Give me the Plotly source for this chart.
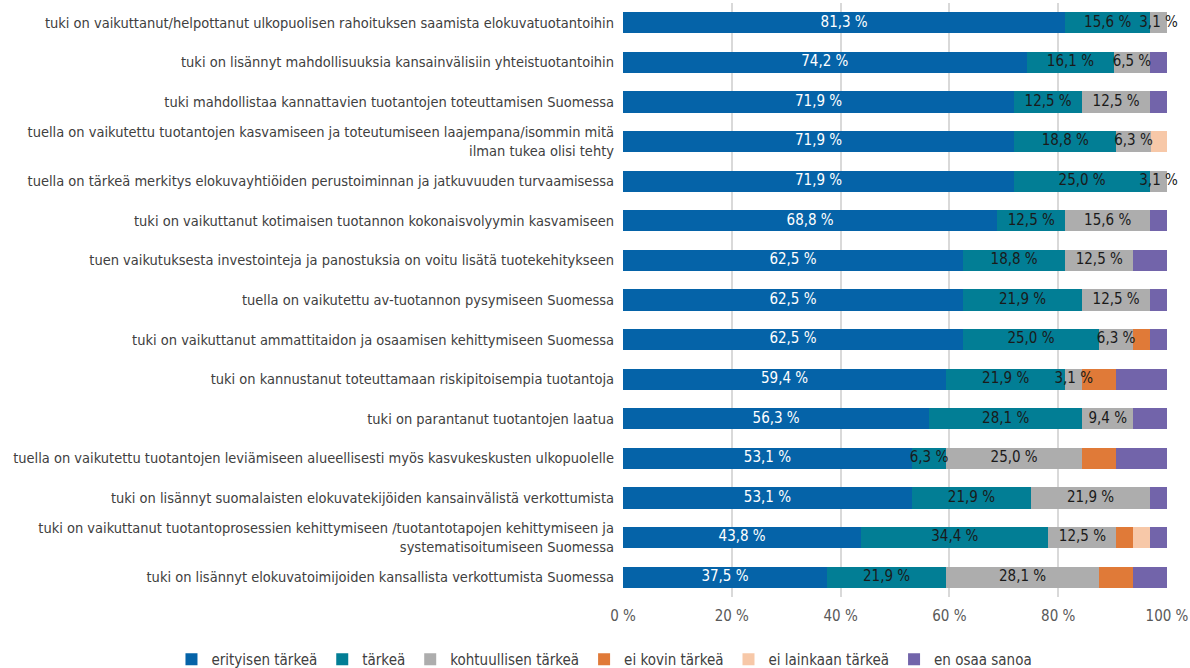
import plotly.graph_objects as go

categories = [
    "tuki on vaikuttanut/helpottanut ulkopuolisen rahoituksen saamista elokuvatuotantoihin",
    "tuki on lisännyt mahdollisuuksia kansainvälisiin yhteistuotantoihin",
    "tuki mahdollistaa kannattavien tuotantojen toteuttamisen Suomessa",
    "tuella on vaikutettu tuotantojen kasvamiseen ja toteutumiseen laajempana/isommin mitä<br>ilman tukea olisi tehty",
    "tuella on tärkeä merkitys elokuvayhtiöiden perustoiminnan ja jatkuvuuden turvaamisessa",
    "tuki on vaikuttanut kotimaisen tuotannon kokonaisvolyymin kasvamiseen",
    "tuen vaikutuksesta investointeja ja panostuksia on voitu lisätä tuotekehitykseen",
    "tuella on vaikutettu av-tuotannon pysymiseen Suomessa",
    "tuki on vaikuttanut ammattitaidon ja osaamisen kehittymiseen Suomessa",
    "tuki on kannustanut toteuttamaan riskipitoisempia tuotantoja",
    "tuki on parantanut tuotantojen laatua",
    "tuella on vaikutettu tuotantojen leviämiseen alueellisesti myös kasvukeskusten ulkopuolelle",
    "tuki on lisännyt suomalaisten elokuvatekijöiden kansainvälistä verkottumista",
    "tuki on vaikuttanut tuotantoprosessien kehittymiseen /tuotantotapojen kehittymiseen ja<br>systematisoitumiseen Suomessa",
    "tuki on lisännyt elokuvatoimijoiden kansallista verkottumista Suomessa",
]

erityisen_tarkea = [81.3, 74.2, 71.9, 71.9, 71.9, 68.8, 62.5, 62.5, 62.5, 59.4, 56.3, 53.1, 53.1, 43.8, 37.5]
tarkea = [15.6, 16.1, 12.5, 18.8, 25.0, 12.5, 18.8, 21.9, 25.0, 21.9, 28.1, 6.3, 21.9, 34.4, 21.9]
kohtuullisen_tarkea = [3.1, 6.5, 12.5, 6.3, 3.1, 15.6, 12.5, 12.5, 6.3, 3.1, 9.4, 25.0, 21.9, 12.5, 28.1]
ei_kovin_tarkea = [0, 0, 0, 0, 0, 0, 0, 0, 3.1, 6.3, 0, 6.3, 0, 3.1, 6.3]
ei_lainkaan_tarkea = [0, 0, 0, 3.1, 0, 0, 0, 0, 0, 0, 0, 0, 0, 3.1, 0]
en_osaa_sanoa = [0, 3.2, 3.1, 0, 0, 3.1, 6.3, 3.1, 3.1, 9.4, 6.3, 9.4, 3.1, 3.1, 6.3]

series_names = ["erityisen tärkeä", "tärkeä", "kohtuullisen tärkeä", "ei kovin tärkeä",
                "ei lainkaan tärkeä", "en osaa sanoa"]
series_values = [erityisen_tarkea, tarkea, kohtuullisen_tarkea, ei_kovin_tarkea,
                 ei_lainkaan_tarkea, en_osaa_sanoa]
labelled = [True, True, True, False, False, False]
colors = ["#0563A8", "#027E95", "#ADADAD", "#E07A38", "#F7C8A8", "#7264AA"]
text_colors = ["white", "#1a1a1a", "#1a1a1a", "#1a1a1a", "#1a1a1a", "#1a1a1a"]

tick_vals = [0, 20, 40, 60, 80, 100]
tick_text = ["0 %", "20 %", "40 %", "60 %", "80 %", "100 %"]

FONT = "DejaVu Sans Condensed, Liberation Sans Narrow, Arial Narrow, sans-serif"


def fmt(v):
    return (f"{v:.1f}".replace(".", ",") + " %") if v > 0 else ""


fig = go.Figure()

# stacked bars
for name, vals, col in zip(series_names, series_values, colors):
    fig.add_trace(go.Bar(
        y=categories, x=vals, name=name, orientation="h",
        marker=dict(color=col, line=dict(width=0)),
        hoverinfo="x+name",
    ))

# value labels drawn on top of all bars (centred in each segment)
base = [0.0] * len(categories)
for name, vals, lab, tcol in zip(series_names, series_values, labelled, text_colors):
    mids = [b + v / 2 for b, v in zip(base, vals)]
    if lab:
        fig.add_trace(go.Scatter(
            y=categories, x=mids, mode="text",
            text=[fmt(v) for v in vals], textposition="middle center",
            textfont=dict(color=tcol, size=15, family=FONT),
            showlegend=False, hoverinfo="skip", cliponaxis=False,
        ))
    base = [b + v for b, v in zip(base, vals)]

fig.update_layout(
    barmode="stack",
    bargap=0.46,
    width=1190, height=668,
    margin=dict(l=623, r=23, t=3, b=71, autoexpand=False),
    plot_bgcolor="white", paper_bgcolor="white",
    font=dict(family=FONT, size=15, color="#404040"),
    legend=dict(orientation="h", x=-0.83, xanchor="left", y=-0.0774, yanchor="top",
                font=dict(size=15, color="#404040"), traceorder="normal",
                itemwidth=30, tracegroupgap=0),
    xaxis=dict(range=[0, 100], tickvals=tick_vals, ticktext=tick_text,
               showgrid=True, gridcolor="#D9D9D9", gridwidth=1.5,
               zeroline=False, showline=False, automargin=False,
               ticklabelstandoff=8,
               tickfont=dict(size=15, color="#595959")),
    yaxis=dict(range=[len(categories) - 0.5, -0.5], autorange=False,
               showgrid=False, showline=False,
               ticks="", ticklabelstandoff=8, automargin=False,
               tickfont=dict(size=14.5, color="#404040")),
)

fig.write_html("out.html", config={"displayModeBar": False},
               post_script="document.body.style.margin='0';")
